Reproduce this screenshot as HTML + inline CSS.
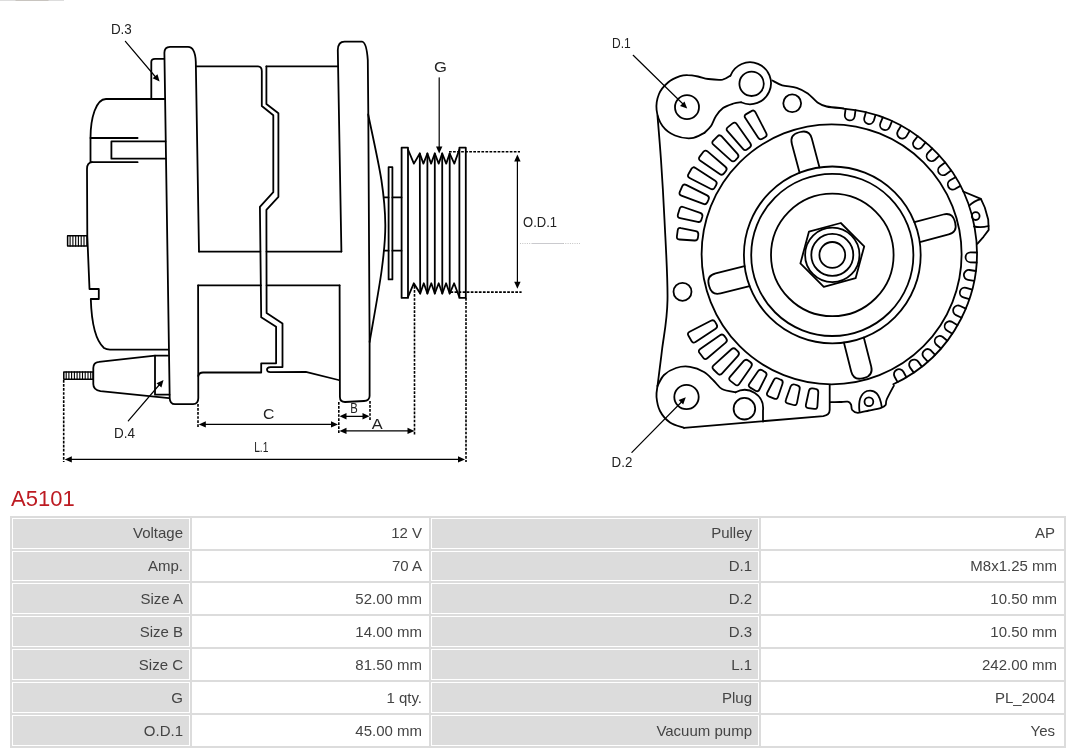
<!DOCTYPE html>
<html><head><meta charset="utf-8"><style>
html,body{margin:0;padding:0;background:#fff;}
body{width:1080px;height:753px;position:relative;overflow:hidden;font-family:"Liberation Sans",sans-serif;}
#title{position:absolute;will-change:transform;left:11px;top:485px;font-size:22px;color:#bd1b22;line-height:28px;}
#tbl{position:absolute;left:10px;top:516px;width:1056px;height:232px;background:#dcdcdc;}
.c{position:absolute;will-change:transform;box-sizing:border-box;border:1px solid #fff;text-align:right;font-size:15px;color:#444;padding-right:6px;white-space:nowrap;}
.l{background:#dcdcdc;}
.v{background:#fff;}
#draw{position:absolute;left:0;top:0;will-change:transform;}
</style></head><body>
<div id="topline" style="position:absolute;left:0;top:0;width:64px;height:1px;background:linear-gradient(90deg,#ddd 0,#ddd 15px,#c8c4bf 16px,#c8c4bf 48px,#ddd 49px,#ddd 64px);"></div>
<div id="title">A5101</div>
<div id="tbl"></div>
<div class="c l" style="left:12px;top:518px;width:178px;height:31px;line-height:27px"><span>Voltage</span></div>
<div class="c v" style="left:192px;top:518px;width:237px;height:31px;line-height:27px"><span>12 V</span></div>
<div class="c l" style="left:431px;top:518px;width:328px;height:31px;line-height:27px"><span>Pulley</span></div>
<div class="c v" style="left:761px;top:518px;width:303px;height:31px;line-height:27px"><span style="padding-right:2px">AP</span></div>
<div class="c l" style="left:12px;top:551px;width:178px;height:30px;line-height:28px"><span>Amp.</span></div>
<div class="c v" style="left:192px;top:551px;width:237px;height:30px;line-height:28px"><span>70 A</span></div>
<div class="c l" style="left:431px;top:551px;width:328px;height:30px;line-height:28px"><span>D.1</span></div>
<div class="c v" style="left:761px;top:551px;width:303px;height:30px;line-height:28px"><span>M8x1.25 mm</span></div>
<div class="c l" style="left:12px;top:583px;width:178px;height:31px;line-height:29px"><span>Size A</span></div>
<div class="c v" style="left:192px;top:583px;width:237px;height:31px;line-height:29px"><span>52.00 mm</span></div>
<div class="c l" style="left:431px;top:583px;width:328px;height:31px;line-height:29px"><span>D.2</span></div>
<div class="c v" style="left:761px;top:583px;width:303px;height:31px;line-height:29px"><span>10.50 mm</span></div>
<div class="c l" style="left:12px;top:616px;width:178px;height:31px;line-height:29px"><span>Size B</span></div>
<div class="c v" style="left:192px;top:616px;width:237px;height:31px;line-height:29px"><span>14.00 mm</span></div>
<div class="c l" style="left:431px;top:616px;width:328px;height:31px;line-height:29px"><span>D.3</span></div>
<div class="c v" style="left:761px;top:616px;width:303px;height:31px;line-height:29px"><span>10.50 mm</span></div>
<div class="c l" style="left:12px;top:649px;width:178px;height:31px;line-height:29px"><span>Size C</span></div>
<div class="c v" style="left:192px;top:649px;width:237px;height:31px;line-height:29px"><span>81.50 mm</span></div>
<div class="c l" style="left:431px;top:649px;width:328px;height:31px;line-height:29px"><span>L.1</span></div>
<div class="c v" style="left:761px;top:649px;width:303px;height:31px;line-height:29px"><span>242.00 mm</span></div>
<div class="c l" style="left:12px;top:682px;width:178px;height:31px;line-height:29px"><span>G</span></div>
<div class="c v" style="left:192px;top:682px;width:237px;height:31px;line-height:29px"><span>1 qty.</span></div>
<div class="c l" style="left:431px;top:682px;width:328px;height:31px;line-height:29px"><span>Plug</span></div>
<div class="c v" style="left:761px;top:682px;width:303px;height:31px;line-height:29px"><span style="padding-right:2px">PL_2004</span></div>
<div class="c l" style="left:12px;top:715px;width:178px;height:31px;line-height:29px"><span>O.D.1</span></div>
<div class="c v" style="left:192px;top:715px;width:237px;height:31px;line-height:29px"><span>45.00 mm</span></div>
<div class="c l" style="left:431px;top:715px;width:328px;height:31px;line-height:29px"><span>Vacuum pump</span></div>
<div class="c v" style="left:761px;top:715px;width:303px;height:31px;line-height:29px"><span style="padding-right:2px">Yes</span></div>
<svg id="draw" width="1080" height="480" viewBox="0 0 1080 480" fill="none" stroke="#000" stroke-width="1.8" stroke-linejoin="round" stroke-linecap="round">
<!--DRAW-->
<path d="M164.5,99 H106 C96,99 90.5,118 90.5,138 V162"/>
<path d="M90.5,138 H137.6"/>
<path d="M165.5,141.4 H111.4 V158.7 H165.5"/>
<path d="M91.5,162.2 H137.6"/>
<path d="M92,162.2 Q87,162.6 87,169 L87.3,236 L89.5,289 H98.8 V299 H90.8 C91.5,322 95,340 104,348 Q106.5,349.6 110,349.6 H168"/>
<rect x="67.6" y="235.8" width="19.4" height="10.3" stroke-width="1.5"/>
<line x1="70.1" y1="235.8" x2="70.1" y2="246.1" stroke-width="1.1"/>
<line x1="72.9" y1="235.8" x2="72.9" y2="246.1" stroke-width="1.1"/>
<line x1="75.7" y1="235.8" x2="75.7" y2="246.1" stroke-width="1.1"/>
<line x1="78.4" y1="235.8" x2="78.4" y2="246.1" stroke-width="1.1"/>
<line x1="81.2" y1="235.8" x2="81.2" y2="246.1" stroke-width="1.1"/>
<line x1="84.0" y1="235.8" x2="84.0" y2="246.1" stroke-width="1.1"/>
<path d="M151.3,99 V62 Q151.3,58.8 155,58.8 H164.2"/>
<path d="M199,251.6 L195.8,62 Q195.3,47 188,46.8 H170 Q164.3,47 164.4,53 L169.7,398 Q169.9,404.2 175,404.2 H193 Q198.3,404 198.3,398 L198.1,285.3"/>
<path d="M169,398.2 L100.5,391.2 Q93.3,390 93.3,384 V368 Q93.3,362.3 99,361.8 L155,355.6 H168"/>
<path d="M155,355.6 V394.7 H169.5"/>
<rect x="63.8" y="371.9" width="29.4" height="7.3" stroke-width="1.5"/>
<line x1="66.2" y1="371.9" x2="66.2" y2="379.2" stroke-width="1.1"/>
<line x1="68.9" y1="371.9" x2="68.9" y2="379.2" stroke-width="1.1"/>
<line x1="71.6" y1="371.9" x2="71.6" y2="379.2" stroke-width="1.1"/>
<line x1="74.4" y1="371.9" x2="74.4" y2="379.2" stroke-width="1.1"/>
<line x1="77.1" y1="371.9" x2="77.1" y2="379.2" stroke-width="1.1"/>
<line x1="79.8" y1="371.9" x2="79.8" y2="379.2" stroke-width="1.1"/>
<line x1="82.5" y1="371.9" x2="82.5" y2="379.2" stroke-width="1.1"/>
<line x1="85.2" y1="371.9" x2="85.2" y2="379.2" stroke-width="1.1"/>
<line x1="88.0" y1="371.9" x2="88.0" y2="379.2" stroke-width="1.1"/>
<line x1="90.7" y1="371.9" x2="90.7" y2="379.2" stroke-width="1.1"/>
<path d="M196,66.3 H258 Q261.8,66.5 261.8,71 V106 L273.3,115.2 V192.2 L259.9,206.8 L261.2,317.2 L276.1,326.8 V363.3 H261.2 V372.5 H203 Q199,372.6 198.3,376"/>
<path d="M266.4,66.3 H338"/>
<path d="M266.4,66.3 V104 L278.4,113.3 V196.8 L266.4,209.8 L266.6,313 L282.5,323.6 V367.1 H270.5 Q267,367.2 267,369.6 Q267,372.2 270.5,372.1 L305.8,371.8 L338.5,380"/>
<path d="M199,251.6 H260.3"/>
<path d="M266.5,251.6 H341.4"/>
<path d="M198.1,285.3 H261"/>
<path d="M266.6,285.3 H339.6"/>
<path d="M341.4,251.6 L337.8,50 Q338,41.6 344.5,41.6 H362 Q366.5,42 367.8,60 L368.3,114 L369.6,342 L369.6,396 Q369.5,400.8 364,401 L345,402 Q340,402 339.9,397 L339.6,285.3"/>
<path d="M368.2,114.5 C370.4,125.4 378.5,161.6 381.4,180.0 C384.2,198.4 385.2,210.0 385.3,225.0 C385.4,240.0 384.3,250.5 381.7,270.0 C379.1,289.5 371.6,330.0 369.6,342.0"/>
<path d="M384,197.4 H388.6 M392.4,197.4 H401.5"/>
<path d="M383.9,250.7 H388.6 M392.4,250.7 H401.5"/>
<rect x="388.6" y="167.2" width="3.8" height="112.2"/>
<rect x="401.6" y="147.7" width="6.4" height="150.2"/>
<rect x="459.4" y="147.7" width="6.4" height="150.2"/>
<polyline points="408.0,149.5 413.9,163.6 419.8,153.5 423.4,163.6 427.4,153.5 431.1,163.6 434.8,153.5 438.7,163.6 442.2,153.5 446.2,163.6 449.7,153.5 454.3,163.6 459.4,149.5"/>
<polyline points="408.0,297.0 413.8,283.3 420.2,293.5 423.8,283.3 427.4,293.5 431.3,283.3 434.8,293.5 438.7,283.3 442.3,293.5 446.1,283.3 449.7,293.5 454.1,283.3 459.3,297.0"/>
<line x1="419.8" y1="153.5" x2="420.2" y2="293.5"/>
<line x1="427.4" y1="153.5" x2="427.4" y2="293.5"/>
<line x1="434.8" y1="153.5" x2="434.8" y2="293.5"/>
<line x1="442.2" y1="153.5" x2="442.3" y2="293.5"/>
<line x1="449.7" y1="153.5" x2="449.7" y2="293.5"/>
<line x1="449.0" y1="151.7" x2="520.0" y2="151.7" stroke-dasharray="2.7,1.35" stroke-width="1.6" stroke-linecap="butt"/>
<line x1="450.5" y1="292.1" x2="521.6" y2="292.1" stroke-dasharray="2.7,1.35" stroke-width="1.6" stroke-linecap="butt"/>
<line x1="517.4" y1="160.0" x2="517.4" y2="283.0" stroke-width="1.2"/>
<polygon points="517.4,154.4 520.6,161.4 514.2,161.4" fill="#000" stroke="none"/>
<polygon points="517.4,288.7 514.2,281.7 520.6,281.7" fill="#000" stroke="none"/>
<line x1="520" y1="243.5" x2="532" y2="243.5" stroke="#bbb" stroke-width="0.9" stroke-dasharray="1,1.3" stroke-linecap="butt"/>
<line x1="532" y1="243.5" x2="563" y2="243.5" stroke="#c4c4c8" stroke-width="0.9" stroke-linecap="butt"/>
<line x1="563" y1="243.5" x2="580" y2="243.5" stroke="#bbb" stroke-width="0.9" stroke-dasharray="1,1.3" stroke-linecap="butt"/>
<text x="523.1" y="227.1" font-size="14.5" textLength="34.0" lengthAdjust="spacingAndGlyphs" fill="#222" stroke="none" id="lab_od1">O.D.1</text>
<line x1="439.2" y1="77.8" x2="439.2" y2="148.0" stroke-width="1.2"/>
<polygon points="439.2,153.5 436.0,146.5 442.4,146.5" fill="#000" stroke="none"/>
<text x="434.0" y="71.8" font-size="14.5" textLength="12.9" lengthAdjust="spacingAndGlyphs" fill="#222" stroke="none" id="lab_g">G</text>
<line x1="198.0" y1="404.0" x2="198.0" y2="428.0" stroke-dasharray="2.7,1.35" stroke-width="1.6" stroke-linecap="butt"/>
<line x1="338.8" y1="402.0" x2="338.8" y2="434.5" stroke-dasharray="2.7,1.35" stroke-width="1.6" stroke-linecap="butt"/>
<line x1="204.0" y1="424.4" x2="332.0" y2="424.4" stroke-width="1.2"/>
<polygon points="198.8,424.4 205.8,421.2 205.8,427.6" fill="#000" stroke="none"/>
<polygon points="338.0,424.4 331.0,427.6 331.0,421.2" fill="#000" stroke="none"/>
<text x="263.0" y="419.3" font-size="14.5" textLength="11.4" lengthAdjust="spacingAndGlyphs" fill="#222" stroke="none" id="lab_c">C</text>
<line x1="370.0" y1="401.0" x2="370.0" y2="420.0" stroke-dasharray="2.7,1.35" stroke-width="1.6" stroke-linecap="butt"/>
<line x1="344.0" y1="416.3" x2="365.0" y2="416.3" stroke-width="1.2"/>
<polygon points="339.5,416.3 346.5,413.1 346.5,419.5" fill="#000" stroke="none"/>
<polygon points="369.5,416.3 362.5,419.5 362.5,413.1" fill="#000" stroke="none"/>
<text x="350.2" y="413.0" font-size="14.5" textLength="7.5" lengthAdjust="spacingAndGlyphs" fill="#222" stroke="none" id="lab_b">B</text>
<line x1="414.5" y1="286.0" x2="414.5" y2="434.5" stroke-dasharray="2.7,1.35" stroke-width="1.6" stroke-linecap="butt"/>
<line x1="344.0" y1="430.9" x2="409.0" y2="430.9" stroke-width="1.2"/>
<polygon points="339.5,430.9 346.5,427.7 346.5,434.1" fill="#000" stroke="none"/>
<polygon points="414.5,430.9 407.5,434.1 407.5,427.7" fill="#000" stroke="none"/>
<text x="371.8" y="428.6" font-size="14.5" textLength="10.9" lengthAdjust="spacingAndGlyphs" fill="#222" stroke="none" id="lab_a">A</text>
<line x1="63.7" y1="380.0" x2="63.7" y2="462.0" stroke-dasharray="2.7,1.35" stroke-width="1.6" stroke-linecap="butt"/>
<line x1="466.0" y1="298.0" x2="466.0" y2="462.0" stroke-dasharray="2.7,1.35" stroke-width="1.6" stroke-linecap="butt"/>
<line x1="70.0" y1="459.4" x2="459.0" y2="459.4" stroke-width="1.2"/>
<polygon points="64.8,459.4 71.8,456.2 71.8,462.6" fill="#000" stroke="none"/>
<polygon points="465.0,459.4 458.0,462.6 458.0,456.2" fill="#000" stroke="none"/>
<text x="254.2" y="452.0" font-size="14.5" textLength="14.2" lengthAdjust="spacingAndGlyphs" fill="#222" stroke="none" id="lab_l1">L.1</text>
<line x1="125.4" y1="41.3" x2="156.0" y2="77.5" stroke-width="1.2"/>
<polygon points="159.6,81.6 152.6,78.3 157.5,74.2" fill="#000" stroke="none"/>
<text x="110.9" y="34.3" font-size="14.5" textLength="20.9" lengthAdjust="spacingAndGlyphs" fill="#222" stroke="none" id="lab_d3">D.3</text>
<line x1="128.3" y1="420.8" x2="160.0" y2="384.0" stroke-width="1.2"/>
<polygon points="163.5,380.0 161.4,387.4 156.5,383.2" fill="#000" stroke="none"/>
<text x="114.1" y="438.3" font-size="14.5" textLength="21.0" lengthAdjust="spacingAndGlyphs" fill="#222" stroke="none" id="lab_d4">D.4</text>
<circle cx="832.3" cy="254.9" r="12.9"/>
<circle cx="832.3" cy="254.9" r="21.0"/>
<circle cx="832.3" cy="254.9" r="27.2"/>
<circle cx="832.3" cy="254.9" r="61.3"/>
<circle cx="832.3" cy="254.9" r="81.1"/>
<circle cx="832.3" cy="254.9" r="88.4"/>
<circle cx="831.6" cy="254.3" r="130.0"/>
<polygon points="864.2,246.4 855.6,278.2 823.8,286.8 800.4,263.4 809.0,231.6 840.8,223.0"/>
<path d="M819.5,167.4 L811.8,138.5 Q809.4,129.6 800.4,132.0 L798.5,132.5 Q789.5,134.9 791.9,143.9 L799.6,172.8"/>
<path d="M919.8,242.1 L948.7,234.4 Q957.6,232.0 955.2,223.0 L954.7,221.1 Q952.3,212.1 943.3,214.5 L914.4,222.2"/>
<path d="M843.9,342.5 L851.2,371.5 Q853.5,380.5 862.5,378.3 L864.4,377.8 Q873.4,375.5 871.2,366.5 L863.8,337.5"/>
<path d="M744.6,266.1 L715.6,273.4 Q706.6,275.6 708.8,284.7 L709.3,286.6 Q711.6,295.6 720.6,293.4 L749.6,286.1"/>
<path d="M765.0,137.3 Q767.6,135.8 766.2,133.1 L755.4,112.2 Q754.0,109.5 751.4,111.1 L746.2,114.1 Q743.6,115.6 745.3,118.1 L758.2,137.8 Q759.9,140.3 762.4,138.8 Z"/>
<path d="M749.7,147.5 Q752.0,145.6 750.3,143.2 L736.7,124.0 Q735.0,121.5 732.6,123.4 L727.9,127.1 Q725.5,128.9 727.5,131.2 L743.0,148.9 Q745.0,151.2 747.3,149.3 Z"/>
<path d="M737.4,158.2 Q739.5,156.1 737.5,153.8 L721.7,136.4 Q719.7,134.2 717.5,136.3 L713.3,140.6 Q711.2,142.7 713.4,144.7 L730.9,160.4 Q733.1,162.4 735.3,160.3 Z"/>
<path d="M725.9,171.0 Q727.7,168.7 725.4,166.7 L707.5,151.4 Q705.2,149.5 703.4,151.8 L699.7,156.6 Q697.9,159.0 700.4,160.7 L719.7,174.1 Q722.2,175.8 724.0,173.4 Z"/>
<path d="M716.2,185.0 Q717.7,182.5 715.2,180.8 L695.5,167.9 Q693.0,166.2 691.5,168.8 L688.5,174.0 Q686.9,176.6 689.6,178.0 L710.5,188.8 Q713.2,190.2 714.7,187.6 Z"/>
<path d="M708.6,199.5 Q709.8,196.7 707.1,195.4 L686.1,184.9 Q683.4,183.6 682.2,186.4 L679.8,191.9 Q678.6,194.6 681.4,195.7 L703.4,203.9 Q706.2,205.0 707.4,202.2 Z"/>
<path d="M702.3,216.8 Q703.1,213.9 700.2,212.9 L683.2,207.0 Q680.4,206.0 679.6,208.9 L677.9,214.6 Q677.1,217.5 680.1,218.1 L697.7,221.9 Q700.6,222.6 701.4,219.7 Z"/>
<path d="M698.3,234.8 Q698.7,231.8 695.8,231.2 L681.0,228.1 Q678.1,227.4 677.7,230.4 L676.9,236.4 Q676.5,239.3 679.5,239.5 L694.5,240.5 Q697.5,240.7 697.9,237.8 Z"/>
<path d="M715.1,321.9 Q713.6,319.3 710.9,320.7 L689.6,331.8 Q686.9,333.2 688.5,335.8 L691.5,341.0 Q693.0,343.6 695.5,341.9 L715.6,328.7 Q718.1,327.1 716.6,324.5 Z"/>
<path d="M724.3,335.9 Q722.5,333.5 720.0,335.2 L700.2,348.9 Q697.7,350.6 699.6,353.0 L703.2,357.7 Q705.0,360.1 707.3,358.2 L725.7,342.6 Q727.9,340.7 726.1,338.3 Z"/>
<path d="M735.8,349.3 Q733.7,347.2 731.4,349.2 L713.6,365.3 Q711.4,367.3 713.5,369.5 L717.7,373.7 Q719.9,375.8 721.9,373.6 L738.0,355.8 Q740.0,353.5 737.9,351.4 Z"/>
<path d="M748.2,360.5 Q745.8,358.7 743.8,360.9 L730.0,376.8 Q728.1,379.0 730.4,380.9 L735.2,384.6 Q737.5,386.4 739.2,384.0 L751.2,366.7 Q752.9,364.2 750.6,362.3 Z"/>
<path d="M762.3,370.3 Q759.7,368.8 758.0,371.3 L749.4,383.7 Q747.7,386.1 750.3,387.6 L755.5,390.7 Q758.1,392.2 759.4,389.5 L766.1,376.1 Q767.5,373.4 764.9,371.9 Z"/>
<path d="M778.0,378.5 Q775.2,377.3 773.8,380.0 L767.3,392.5 Q766.0,395.1 768.7,396.3 L774.2,398.6 Q777.0,399.8 778.0,397.0 L782.5,383.7 Q783.5,380.8 780.7,379.7 Z"/>
<path d="M794.6,384.5 Q791.7,383.7 790.6,386.5 L785.9,399.8 Q784.8,402.6 787.7,403.4 L793.5,405.0 Q796.4,405.8 797.0,402.9 L799.7,389.1 Q800.3,386.1 797.4,385.3 Z"/>
<path d="M812.5,388.4 Q809.5,388.0 808.9,391.0 L805.9,404.7 Q805.3,407.7 808.3,408.1 L814.2,408.9 Q817.2,409.3 817.4,406.3 L818.3,392.3 Q818.4,389.3 815.5,388.9 Z"/>
<path d="M855.5,110.1 L854.7,116.3 A5.0,5.0 0 0 1 844.8,115.0 L845.6,108.8"/>
<path d="M875.5,114.9 L873.8,120.8 A5.0,5.0 0 0 1 864.2,118.2 L865.9,112.2"/>
<path d="M892.0,121.2 L889.7,126.9 A5.0,5.0 0 0 1 880.4,123.1 L882.8,117.4"/>
<path d="M909.7,130.8 L906.6,136.1 A5.0,5.0 0 0 1 897.9,131.0 L901.1,125.7"/>
<path d="M925.6,142.4 L921.7,147.3 A5.0,5.0 0 0 1 913.9,141.1 L917.7,136.2"/>
<path d="M939.3,155.7 L934.8,160.0 A5.0,5.0 0 0 1 927.9,152.8 L932.3,148.5"/>
<path d="M951.1,170.5 L946.1,174.2 A5.0,5.0 0 0 1 940.1,166.2 L945.1,162.5"/>
<path d="M960.4,185.9 L955.0,189.0 A5.0,5.0 0 0 1 950.1,180.3 L955.5,177.2"/>
<path d="M976.6,262.5 L970.4,262.3 A5.0,5.0 0 0 1 970.7,252.3 L976.9,252.5"/>
<path d="M974.2,280.9 L968.1,279.9 A5.0,5.0 0 0 1 969.6,270.0 L975.8,271.0"/>
<path d="M969.3,299.2 L963.4,297.4 A5.0,5.0 0 0 1 966.2,287.8 L972.2,289.6"/>
<path d="M961.6,317.7 L956.0,315.1 A5.0,5.0 0 0 1 960.2,306.0 L965.8,308.6"/>
<path d="M952.3,333.8 L947.0,330.5 A5.0,5.0 0 0 1 952.3,322.0 L957.5,325.3"/>
<path d="M941.0,348.5 L936.2,344.5 A5.0,5.0 0 0 1 942.5,336.8 L947.3,340.7"/>
<path d="M927.8,361.6 L923.6,357.1 A5.0,5.0 0 0 1 930.8,350.3 L935.1,354.8"/>
<path d="M913.8,372.6 L910.1,367.6 A5.0,5.0 0 0 1 918.2,361.6 L921.8,366.6"/>
<path d="M897.6,382.1 L894.6,376.7 A5.0,5.0 0 0 1 903.4,371.8 L906.4,377.3"/>
<path d="M843.2,108.6 A144.8,144.8 0 0 1 893.3,384.2"/>
<polyline points="963.2,191.5 980.9,198.8 984.8,207.5 988.2,219.5 988.7,229.9 983.5,236.8 977.5,243.7"/>
<path d="M969.2,205.7 Q974,201 980.9,199.2"/>
<path d="M974,226.5 Q981,228 988.6,226"/>
<circle cx="975.7" cy="216.1" r="3.9"/>
<path d="M704.4,132.8 C702.2,133.7 696.4,137.8 691.5,138.2 C686.6,138.6 679.8,137.5 675.0,135.5 C670.2,133.5 665.6,130.2 662.5,126.0 C659.4,121.8 657.2,115.3 656.6,110.0 C656.0,104.7 657.1,98.6 659.0,94.0 C660.9,89.4 664.5,85.5 668.0,82.5 C671.5,79.5 676.7,77.4 680.0,76.2 C683.3,75.0 684.6,75.0 687.6,75.1 C690.6,75.1 694.5,75.8 698.0,76.5 C701.5,77.2 704.2,78.5 708.3,79.0 C712.4,79.5 718.9,80.1 722.6,79.6 C726.3,79.0 729.1,76.3 730.4,75.7"/>
<path d="M730.4,75.7 A21.0,21.0 0 1 1 741.1,102.3"/>
<path d="M741.1,102.3 C739.9,102.5 736.5,102.5 733.5,103.5 C730.5,104.5 725.9,105.9 723.0,108.0 C720.1,110.1 718.0,113.0 716.0,116.0 C714.0,119.0 712.9,123.2 711.0,126.0 C709.1,128.8 705.5,131.7 704.4,132.8"/>
<path d="M772.3,80.5 C773.9,81.3 778.1,84.1 782.2,85.3 C786.3,86.5 792.4,86.4 796.7,87.8 C801.0,89.2 804.3,91.0 807.8,93.5 C811.3,96.0 814.4,100.3 817.5,102.5 C820.6,104.7 822.4,105.5 826.7,106.5 C831.0,107.5 840.5,108.0 843.3,108.3"/>
<circle cx="687.0" cy="107.2" r="12.0"/>
<circle cx="751.6" cy="83.8" r="12.2"/>
<circle cx="792.2" cy="103.3" r="8.9"/>
<circle cx="682.5" cy="291.8" r="9.0"/>
<path d="M657.5,116.0 C658.1,123.3 659.8,142.7 661.0,160.0 C662.2,177.3 663.4,196.7 664.5,220.0 C665.6,243.3 667.9,278.3 667.5,300.0 C667.1,321.7 663.7,335.7 662.0,350.0 C660.3,364.3 658.2,380.0 657.5,386.0"/>
<circle cx="686.5" cy="397.0" r="12.2"/>
<path d="M657.5,386.0 C657.3,387.8 656.1,392.8 656.5,397.0 C656.9,401.2 657.8,406.8 660.0,411.0 C662.2,415.2 666.0,419.7 670.0,422.5 C674.0,425.3 681.7,426.9 684.0,427.8"/>
<path d="M684,427.8 L823.3,416.1 Q829.6,415 829.7,410 V385"/>
<path d="M657.5,386.0 C658.6,384.2 660.9,378.0 664.0,375.0 C667.1,372.0 671.7,369.4 676.0,368.0 C680.3,366.6 685.3,366.1 690.0,366.8 C694.7,367.5 700.0,369.6 704.0,372.0 C708.0,374.4 711.0,378.2 714.0,381.0 C717.0,383.8 718.4,387.1 722.0,389.0 C725.6,390.9 733.3,391.8 735.6,392.3"/>
<path d="M735.6,392.3 A18.5,18.5 0 0 1 763,410.5 L763,421.5"/>
<circle cx="744.4" cy="408.7" r="10.8"/>
<path d="M830.6,402.2 C832.2,402.2 837.1,402.1 840.0,402.0 C842.9,401.9 846.0,401.3 847.8,401.7 C849.6,402.1 850.3,403.1 851.0,404.5 C851.7,405.9 851.1,408.6 852.2,410.0 C853.3,411.4 855.0,412.7 857.8,412.8 C860.6,412.9 865.1,411.3 869.0,410.5 C872.9,409.7 878.3,408.7 881.1,407.8 C883.9,406.9 884.7,406.4 885.6,405.0 C886.5,403.6 885.3,402.7 886.7,399.5 C888.1,396.3 892.7,387.9 893.9,385.6"/>
<path d="M859.5,411.5 Q857.5,395 867,391 Q879,388 881.7,406.7"/>
<circle cx="868.9" cy="401.7" r="4.4"/>
<line x1="633.2" y1="55.3" x2="683.5" y2="104.5" stroke-width="1.2"/>
<polygon points="687.2,108.6 680.0,106.0 684.5,101.4" fill="#000" stroke="none"/>
<text x="612.0" y="47.6" font-size="14.5" textLength="18.7" lengthAdjust="spacingAndGlyphs" fill="#222" stroke="none" id="lab_d1">D.1</text>
<line x1="631.9" y1="452.4" x2="682.0" y2="401.5" stroke-width="1.2"/>
<polygon points="685.8,397.3 683.2,404.5 678.6,400.1" fill="#000" stroke="none"/>
<text x="611.6" y="467.0" font-size="14.5" textLength="20.7" lengthAdjust="spacingAndGlyphs" fill="#222" stroke="none" id="lab_d2">D.2</text>
<!--/DRAW-->
</svg>
</body></html>
